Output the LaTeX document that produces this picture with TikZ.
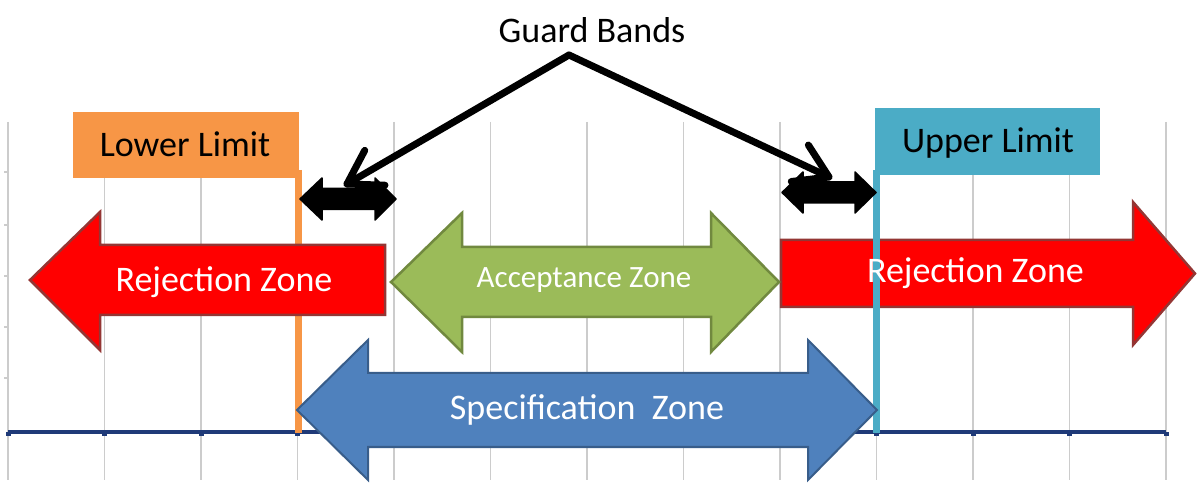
\documentclass[tikz,border=0pt]{standalone}
\usepackage{fontspec}
\setmainfont{Carlito}
\usetikzlibrary{arrows.meta,calc}
\definecolor{gridgray}{HTML}{CCCCCC}
\definecolor{axisblue}{HTML}{1F3A78}
\definecolor{limorange}{HTML}{F79646}
\definecolor{limblue}{HTML}{4BACC6}
\definecolor{rejred}{HTML}{FF0000}
\definecolor{rejborder}{HTML}{943634}
\definecolor{accgreen}{HTML}{9BBB59}
\definecolor{accborder}{HTML}{71893F}
\definecolor{specblue}{HTML}{4F81BD}
\definecolor{specborder}{HTML}{385D8A}
\begin{document}
\begin{tikzpicture}[x=1pt,y=-1pt,
  bigtext/.style={font=\fontsize{36}{40}\selectfont, inner sep=0pt, anchor=base},
  midtext/.style={font=\fontsize{31}{36}\selectfont, inner sep=0pt, anchor=base},
  gridline/.style={gridgray, line width=1.5pt},
  rejarrow/.style={fill=rejred, draw=rejborder, line width=2.5pt, line join=miter},
  accarrow/.style={fill=accgreen, draw=accborder, line width=2.5pt, line join=miter},
  specarrow/.style={fill=specblue, draw=specborder, line width=2pt, line join=miter},
  guardarrow/.style={fill=black, draw=black, line width=1.5pt, line join=round},
  leader/.style={black, line width=7pt, line cap=round, line join=round}
]
\useasboundingbox (0,0) rectangle (1197,502);
\fill[white] (0,0) rectangle (1197,502);

% grid
\foreach \i in {0,...,12} \draw[gridline] ({8+96.5*\i},122) -- ({8+96.5*\i},480);
\foreach \yy in {172,225,276,327,378} \draw[gridline] (4,\yy) -- (8,\yy);

% axis
\draw[axisblue, line width=3.5pt] (8,432) -- (1166,432);
\foreach \i in {0,...,12} \fill[axisblue] ({8+96.5*\i-2.5},432) rectangle ++(5,4.5);

% lower limit
\draw[limorange, line width=7pt] (298.5,170) -- (298.5,433);
\fill[limorange] (73,112) rectangle (299,178);
\node[bigtext, text=black] (lower) at (185,157) {Lower Limit};

% left rejection arrow
\draw[rejarrow] (30,280) -- (100,212) -- (100,245) -- (385,245) -- (385,315) -- (100,315) -- (100,350) -- cycle;
\node[bigtext, text=white] (rejL) at (224,292) {Rejection Zone};

% right rejection arrow
\draw[rejarrow] (781,240) -- (1133,240) -- (1133,202) -- (1195,273.5) -- (1133,345) -- (1133,307) -- (781,307) -- cycle;

% upper limit
\draw[limblue, line width=7pt] (876.5,170) -- (876.5,433);
\fill[limblue] (875,108) rectangle (1100,175);
\node[bigtext, text=black] (upper) at (988,153) {Upper Limit};
\node[bigtext, text=white] (rejR) at (975.5,283) {Rejection Zone};

% acceptance arrow
\draw[accarrow] (391,282) -- (462,213) -- (462,247) -- (711,247) -- (711,213) -- (779,282) -- (711,352) -- (711,317) -- (462,317) -- (462,352) -- cycle;
\node[midtext, text=white] (acc) at (584,288) {Acceptance Zone};

% specification arrow
\draw[specarrow] (297,410) -- (368,340) -- (368,373) -- (808,373) -- (808,340) -- (877,410) -- (808,480) -- (808,447) -- (368,447) -- (368,480) -- cycle;
\node[bigtext, text=white] (spec) at (587,420) {Specification\ \ Zone};

% guard bands
\draw[guardarrow] (300,199) -- (322,178) -- (322,188.5) -- (375,188.5) -- (375,178) -- (396,199) -- (375,220) -- (375,209.5) -- (322,209.5) -- (322,220) -- cycle;
\draw[guardarrow] (782,192.5) -- (803,172) -- (803,182) -- (855,182) -- (855,172) -- (876,192.5) -- (855,213) -- (855,203) -- (803,203) -- (803,213) -- cycle;

\node[bigtext, text=black] (guard) at (592,43) {Guard Bands};
\coordinate (apex) at (569,55);
\coordinate (gbL) at (347,184);
\coordinate (gbR) at (829,177);
\draw[leader] (apex) -- (gbL);
\draw[leader] (apex) -- (gbR);
\draw[leader] ($(gbL)!38pt!32:(apex)$) -- (gbL) -- ($(gbL)!38pt!-32:(apex)$);
\draw[leader] ($(gbR)!38pt!32:(apex)$) -- (gbR) -- ($(gbR)!38pt!-32:(apex)$);
\end{tikzpicture}
\end{document}
